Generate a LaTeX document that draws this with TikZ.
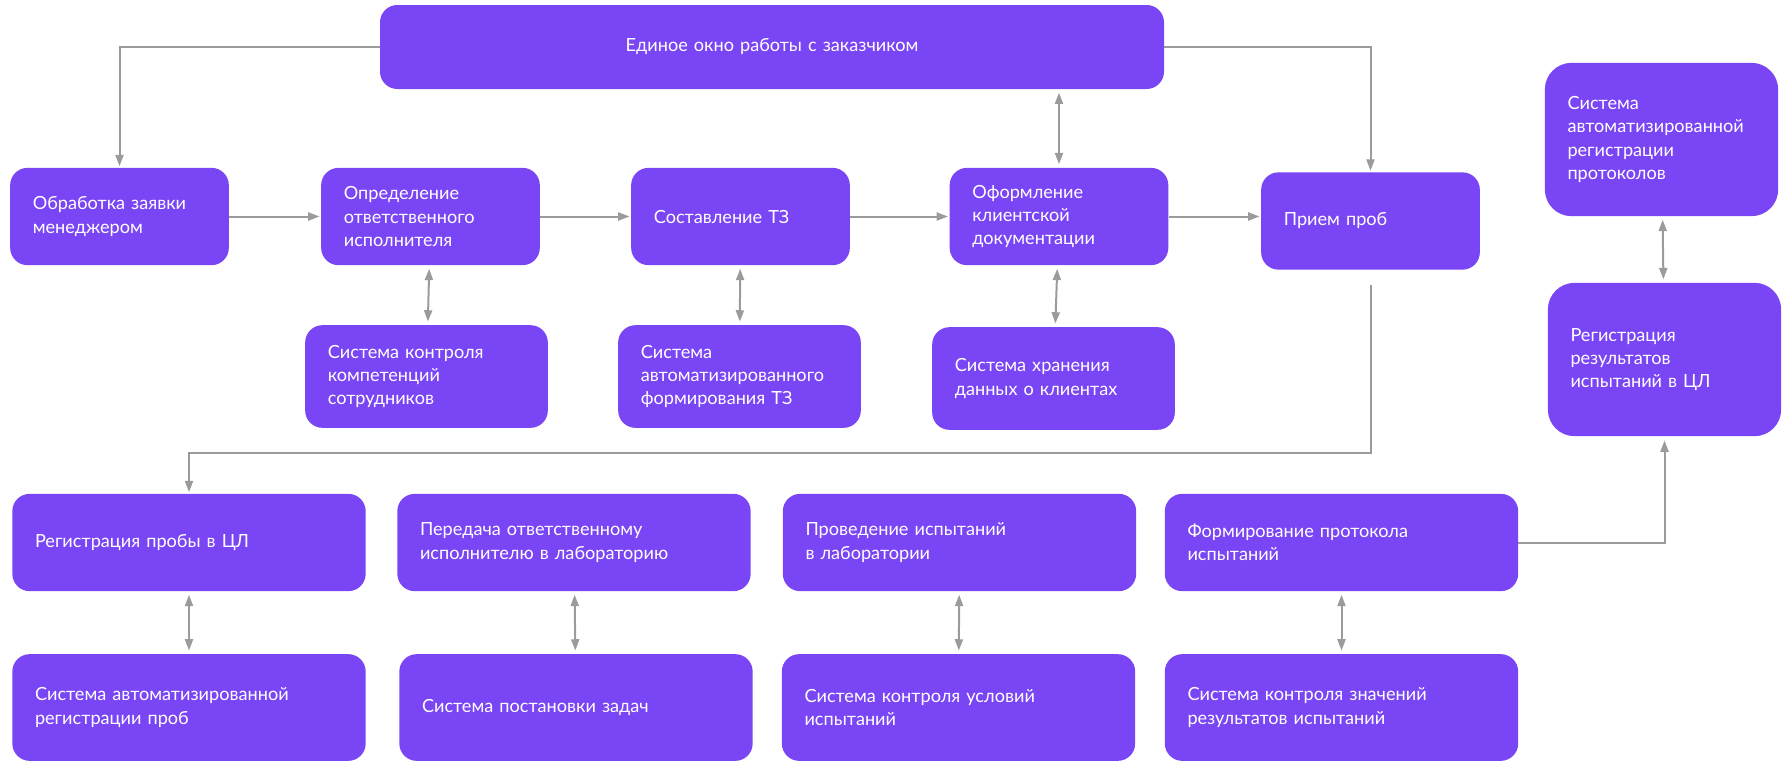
\documentclass[tikz,border=0pt]{standalone}
\usepackage{fontspec}
\setmainfont{Lato}
\usepackage{tikz}
\usetikzlibrary{arrows.meta,positioning,calc}
\definecolor{LabViolet}{HTML}{7A45F4}
\definecolor{LinkGray}{HTML}{9B9B9B}

\begin{document}
\begin{tikzpicture}[x=0.75pt,y=-0.75pt,>={Triangle[length=8.5pt,width=6pt]},
  blk/.style={fill=LabViolet,text=white,rounded corners=13pt,align=left,
    font=\fontsize{13.6}{17.4}\selectfont,inner xsep=17pt,inner ysep=0pt},
  prc/.style={blk,text width=130pt,minimum height=73pt},
  sys/.style={blk,text width=148pt,minimum height=77pt},
  lab/.style={blk,text width=231pt,minimum height=73pt},
  labsys/.style={blk,text width=231pt,minimum height=80pt},
  reg/.style={blk,text width=141pt,minimum height=115pt,rounded corners=20pt},
  link/.style={->,draw=LinkGray,line width=1.5pt,shorten >=1pt},
  both/.style={<->,draw=LinkGray,line width=1.5pt,shorten <=2.5pt,shorten >=2.5pt}]
  \useasboundingbox (0,0) rectangle (1789,765);
  \node[blk,text width=554pt,align=center,minimum height=63pt] (okno) at (772,47)
      {Единое окно работы с заказчиком};
  \node[prc] (zayavka) at (119.5,216.5) {Обработка заявки\\менеджером};
  \node[prc] (otvet) at (430.5,216.5) {Определение\\ответственного\\исполнителя};
  \node[prc] (tz) at (740.5,216.5) {Составление ТЗ};
  \node[prc] (dokum) at (1059,216.5) {Оформление\\клиентской\\документации};
  \node[prc] (priem) at (1370.5,221) {Прием проб};
  \node[reg] (sarp) at (1661.5,139.5)
      {Система\\автоматизированной\\регистрации\\протоколов};
  \node[reg] (regres) at (1664.5,359.5) {Регистрация\\результатов\\испытаний в ЦЛ};
  \node[sys] (skk) at (426.5,376.5) {Система контроля\\компетенций\\сотрудников};
  \node[sys] (saftz) at (739.5,376.5) {Система\\автоматизированного\\формирования ТЗ};
  \node[sys] (shd) at (1053.5,378.5) {Система хранения\\данных о клиентах};
  \node[lab] (regprob) at (189,542.5) {Регистрация пробы в ЦЛ};
  \node[lab] (peredacha) at (574,542.5) {Передача ответственному\\исполнителю в лабораторию};
  \node[lab] (ispyt) at (959.5,542.5) {Проведение испытаний\\в лаборатории};
  \node[lab] (protokol) at (1341.5,542.5) {Формирование протокола\\испытаний};
  \node[labsys] (sarprob) at (189,707.5) {Система автоматизированной\\регистрации проб};
  \node[labsys] (spz) at (576,707.5) {Система постановки задач};
  \node[labsys] (skui) at (958.5,707.5) {Система контроля условий\\испытаний};
  \node[labsys] (skzr) at (1341.5,707.5) {Система контроля значений\\результатов испытаний};
  % main flow
  \draw[link] (okno.west) -| (zayavka.north);
  \draw[link] (okno.east) -| (priem.north);
  \foreach \a/\b in {zayavka/otvet,otvet/tz,tz/dokum,dokum/priem}
    \draw[link] (\a.east) -- (\a.east -| \b.west);
  \draw[link,shorten <=11pt] (priem.south) -- ++(0,183) -| (regprob.north);
  \draw[link,shorten >=3pt] (protokol.east) -| (regres.south);
  % links to the systems
  \draw[both] (dokum.north) -- (dokum.north |- okno.south);
  \foreach \a/\b in {otvet/skk,tz/saftz,dokum/shd,regprob/sarprob,
      peredacha/spz,ispyt/skui,protokol/skzr,sarp/regres}
    \draw[both] (\a) -- (\b);
\end{tikzpicture}
\end{document}
